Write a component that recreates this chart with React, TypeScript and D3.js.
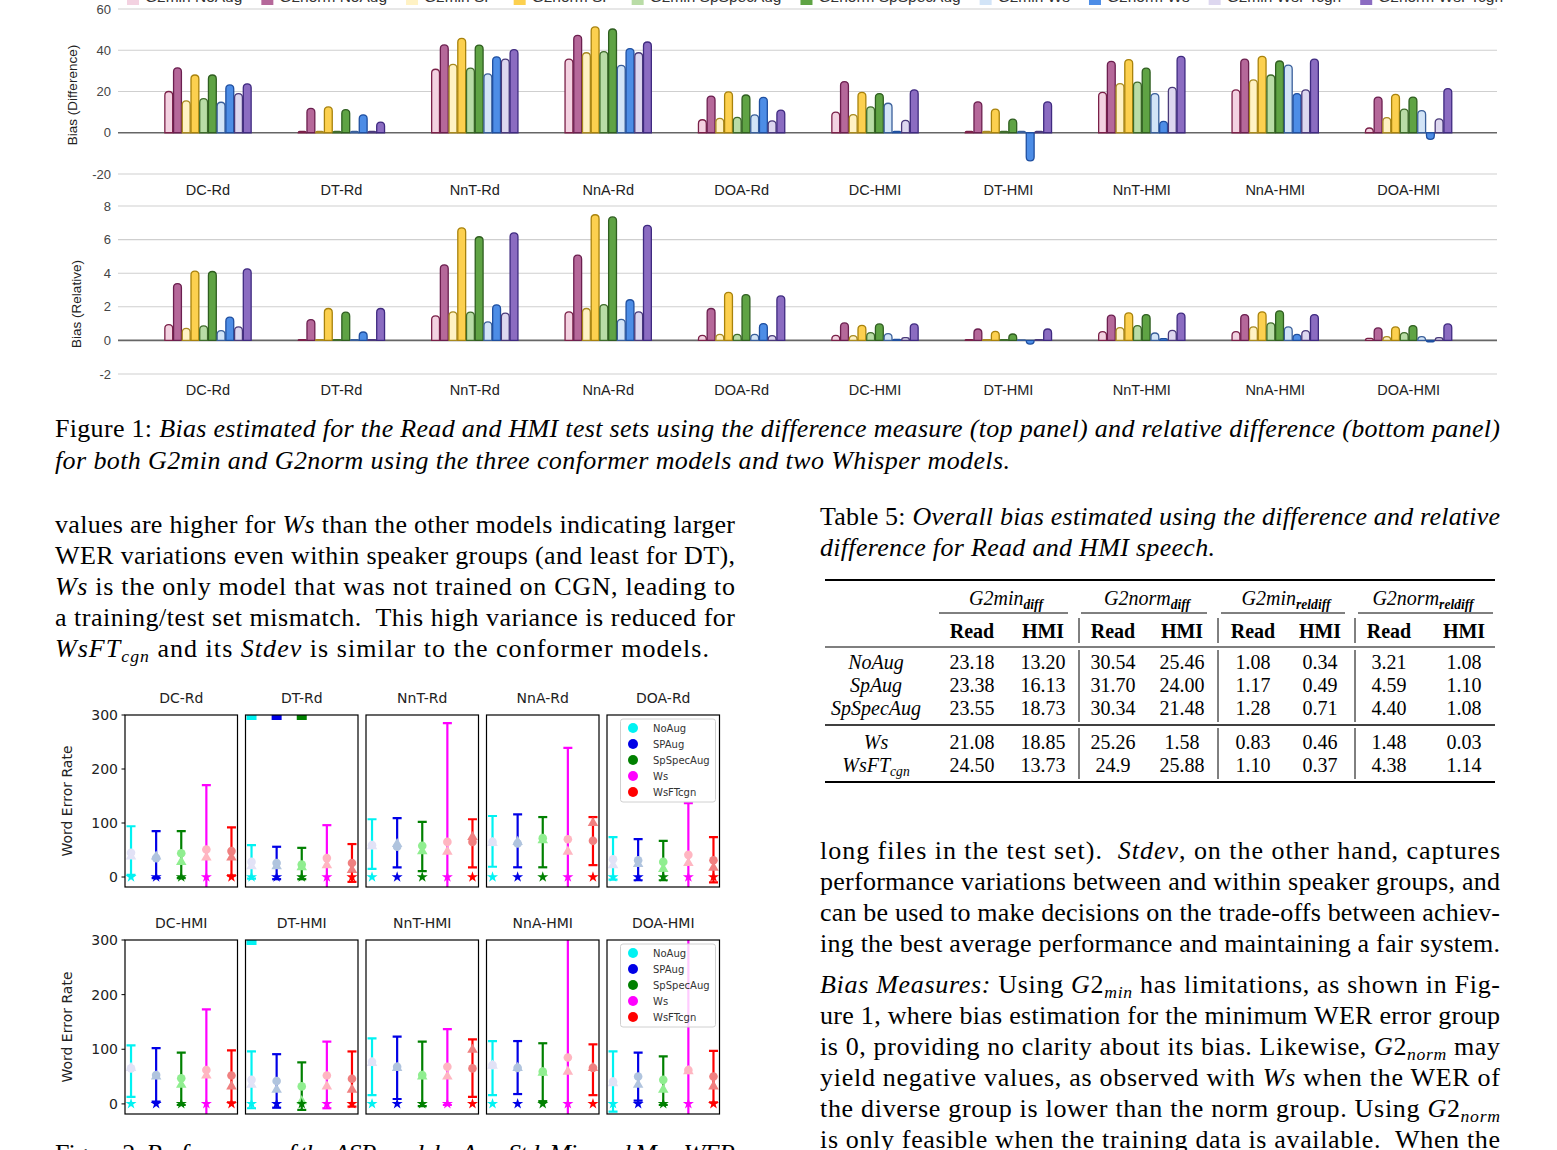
import React from 'react';
import * as d3 from 'd3';

// ---------------- Figure 1 data ----------------
const categories = ['DC-Rd', 'DT-Rd', 'NnT-Rd', 'NnA-Rd', 'DOA-Rd', 'DC-HMI', 'DT-HMI', 'NnT-HMI', 'NnA-HMI', 'DOA-HMI'];
const seriesNames = ['G2min NoAug', 'G2norm NoAug', 'G2min SP', 'G2norm SP', 'G2min SpSpecAug', 'G2norm SpSpecAug', 'G2min Ws', 'G2norm Ws', 'G2min WsFTcgn', 'G2norm WsFTcgn'];

const diffG2minNoAug = [20, 0.7, 30.8, 35.7, 6.3, 10, 0.6, 19.6, 20.8, 2.3];
const diffG2normNoAug = [31.5, 11.8, 42.6, 47.2, 17.8, 24.8, 15, 34.6, 35.7, 17.3];
const diffG2minSP = [15.5, 0.7, 33.2, 38.8, 7, 8.8, 0.6, 23.8, 25.6, 7.3];
const diffG2normSP = [28, 12.5, 45.8, 51.3, 19.8, 19.6, 11.5, 35.5, 37, 18.6];
const diffG2minSpSpec = [16.5, 0.7, 31.3, 39.3, 7.5, 12.5, 0.6, 24.5, 28, 11.5];
const diffG2normSpSpec = [28, 11.2, 42.5, 50.3, 18.3, 19, 6.6, 31.3, 34.8, 17.3];
const diffG2minWs = [14.8, 0.7, 28.5, 32.7, 8.7, 14.3, 0.6, 19, 32.8, 10.7];
const diffG2normWs = [23.2, 8.7, 36.8, 40.8, 17.2, 0.6, -13.6, 5.5, 19, -3.2];
const diffG2minWsFT = [19, 0.7, 35.7, 38.8, 5.8, 6, 0.6, 22, 20.8, 6.7];
const diffG2normWsFT = [23.7, 5.2, 40.3, 44, 11, 20.8, 15, 37, 35.7, 21.4];

const relG2minNoAug = [0.94, 0.05, 1.46, 1.7, 0.3, 0.3, 0.05, 0.52, 0.52, 0.12];
const relG2normNoAug = [3.38, 1.24, 4.5, 5.07, 1.9, 1.04, 0.68, 1.5, 1.54, 0.74];
const relG2minSP = [0.72, 0.05, 1.7, 1.9, 0.36, 0.28, 0.05, 0.76, 0.8, 0.22];
const relG2normSP = [4.12, 1.9, 6.7, 7.48, 2.86, 0.9, 0.54, 1.64, 1.7, 0.8];
const relG2minSpSpec = [0.86, 0.05, 1.68, 2.13, 0.36, 0.46, 0.05, 0.88, 1.04, 0.46];
const relG2normSpSpec = [4.1, 1.68, 6.17, 7.35, 2.72, 0.98, 0.38, 1.54, 1.76, 0.88];
const relG2minWs = [0.58, 0.05, 1.1, 1.25, 0.36, 0.4, 0.03, 0.44, 0.8, 0.22];
const relG2normWs = [1.38, 0.5, 2.12, 2.42, 1.0, 0.06, -0.22, 0.1, 0.36, -0.08];
const relG2minWsFT = [0.8, 0.05, 1.62, 1.7, 0.28, 0.16, 0.05, 0.6, 0.58, 0.16];
const relG2normWsFT = [4.26, 1.9, 6.4, 6.85, 2.65, 0.98, 0.68, 1.62, 1.54, 0.98];

const diffTicks = [-20, 0, 20, 40, 60];
const relTicks = [-2, 0, 2, 4, 6, 8];

const seriesFill = ['#f3d2e1', '#b5689a', '#fff2c4', '#fcd04f', '#b9dca6', '#5fa344', '#d2e4f7', '#4d8de6', '#ddd7ef', '#8b6cc1'];
const seriesStroke = ['#7a2048', '#6b1f4f', '#a88a20', '#a8820c', '#3e6b2a', '#2f5e20', '#3a5f9a', '#1f4fa0', '#4a3a7a', '#3f2a80'];

// ---------------- Figure 2 data ----------------
const modelNames = ['NoAug', 'SPAug', 'SpSpecAug', 'Ws', 'WsFTcgn'];
const werTicks = [0, 100, 200, 300];

const meanNoAug = [45, 28, 59, 65, 33, 65, 44, 77, 71, 41];
const medianNoAug = [38, 20, 57, 63, 22, 66, 35, 75, 70, 38];
const highNoAug = [94, 59, 107, 113, 74, 107, 96, 120, 115, 96];
const lowNoAug = [4, -3, 15, 19, -5, 13, -8, 16, 16, -14];
const maxNoAug = [null, 300, null, null, null, null, 300, null, null, null];

const meanSPAug = [35, 26, 56, 62, 31, 53, 42, 68, 66, 50];
const medianSPAug = [38, 20, 61, 65, 24, 50, 26, 66, 66, 35];
const highSPAug = [85, 56, 109, 116, 70, 102, 91, 123, 115, 94];
const lowSPAug = [-2, -4, 18, 18, -6, 4, -7, 9, 18, 6];
const maxSPAug = [null, 300, null, null, null, null, null, null, null, null];

const meanSpSpec = [44, 23, 58, 72, 28, 47, 32, 53, 59, 44];
const medianSpSpec = [28, 18, 48, 68, 15, 35, 5, 50, 57, 26];
const highSpSpec = [85, 54, 102, 111, 67, 94, 76, 114, 111, 87];
const lowSpSpec = [-2, -4, 11, 18, -6, -2, -11, -4, 5, -2];
const maxSpSpec = [null, 300, null, null, null, null, null, null, null, null];

const meanWs = [51, 35, 65, 70, 41, 62, 52, 68, 85, 62];
const medianWs = [36, 22, 47, 47, 26, 52, 32, 50, 59, 60];
const highWs = [170, 96, 285, 239, 137, 173, 114, 137, 420, 400];
const lowWs = [-68, -30, -150, -100, -60, -50, -8, -2, -250, -250];
const maxWs = [null, null, null, null, null, null, null, null, null, null];

const meanWsFT = [48, 26, 65, 67, 31, 52, 46, 65, 66, 50];
const medianWsFT = [36, 13, 74, 100, 17, 32, 26, 99, 66, 32];
const highWsFT = [92, 61, 107, 111, 74, 98, 96, 118, 109, 97];
const lowWsFT = [3, -9, 18, 22, -10, 3, -5, 13, 16, 3];
const maxWsFT = [null, null, null, null, null, null, null, null, null, null];

const minAll = [0, 0, 0, 0, 0, 0, 0, 0, 0, 0];

const modelColor = ['#00f2f2', '#0000e6', '#008000', '#ff00ff', '#ff0000'];
const modelLight = ['#e2e2f6', '#b0c4de', '#90ee90', '#ffb6c1', '#f08080'];

// ---------------- Table 5 data ----------------
const tableRowLabels = [['NoAug'], ['SpAug'], ['SpSpecAug'], ['Ws'], ['WsFT', 'cgn']];
const rowNoAug = ['23.18', '13.20', '30.54', '25.46', '1.08', '0.34', '3.21', '1.08'];
const rowSpAug = ['23.38', '16.13', '31.70', '24.00', '1.17', '0.49', '4.59', '1.10'];
const rowSpSpecAug = ['23.55', '18.73', '30.34', '21.48', '1.28', '0.71', '4.40', '1.08'];
const rowWs = ['21.08', '18.85', '25.26', '1.58', '0.83', '0.46', '1.48', '0.03'];
const rowWsFT = ['24.50', '13.73', '24.9', '25.88', '1.10', '0.37', '4.38', '1.14'];
const tableGroups = [['G2min', 'diff'], ['G2norm', 'diff'], ['G2min', 'reldiff'], ['G2norm', 'reldiff']];
const tableSub = ['Read', 'HMI', 'Read', 'HMI', 'Read', 'HMI', 'Read', 'HMI'];

const FIG = '"Liberation Sans", Arial, sans-serif';
const MPL = '"DejaVu Sans", sans-serif';
const SERIF = '"Liberation Serif", "Times New Roman", serif';
const BODY = 26;

type Seg = { t: string; s?: 'r' | 'i' | 'b' | 'm' | 'sub' | 'subb' };

function TextLine(props: { x: number; y: number; segs: Seg[]; width?: number; size?: number; anchor?: string }) {
  const { x, y, segs, width, size = BODY, anchor } = props;
  let shifted = false;
  const kids = segs.map((sg, i) => {
    const isSub = sg.s === 'sub' || sg.s === 'subb';
    let dy: number | undefined;
    if (isSub && !shifted) { dy = size * 0.2; shifted = true; }
    else if (!isSub && shifted) { dy = -size * 0.2; shifted = false; }
    const italic = sg.s === 'i' || sg.s === 'm' || sg.s === 'sub' || sg.s === 'subb';
    const bold = sg.s === 'b' || sg.s === 'subb';
    return (
      <tspan key={i} dy={dy} fontStyle={italic ? 'italic' : 'normal'} fontWeight={bold ? 'bold' : 'normal'} fontSize={isSub ? size * 0.68 : undefined}>
        {sg.t}
      </tspan>
    );
  });
  return (
    <text x={x} y={y} fontFamily={SERIF} fontSize={size} textAnchor={anchor as any}
      textLength={width} lengthAdjust={width ? 'spacing' : undefined} style={{ whiteSpace: 'pre' }} fill="#000">
      {kids}
    </text>
  );
}

function barPath(x: number, w: number, yZero: number, yVal: number) {
  const h = Math.abs(yVal - yZero);
  const r = Math.min(w / 2, h);
  if (yVal <= yZero) {
    return `M${x},${yZero}V${yVal + r}Q${x},${yVal} ${x + r},${yVal}H${x + w - r}Q${x + w},${yVal} ${x + w},${yVal + r}V${yZero}Z`;
  }
  return `M${x},${yZero}V${yVal - r}Q${x},${yVal} ${x + r},${yVal}H${x + w - r}Q${x + w},${yVal} ${x + w},${yVal - r}V${yZero}Z`;
}

function BarPanel(props: { y: d3.ScaleLinear<number, number>; ticks: number[]; data: number[][]; labelY: number; title: string; titleX: number; titleY: number }) {
  const { y, ticks, data, labelY, title, titleX, titleY } = props;
  const x0 = d3.scaleBand<string>().domain(categories).range([141.3, 1475.3]).paddingInner(0.34).paddingOuter(0.17);
  const x1 = d3.scaleBand<string>().domain(seriesNames).range([0, x0.bandwidth()]).padding(0.1);
  const y0 = y(0);
  return (
    <g>
      {ticks.map((t) => (
        <g key={t}>
          <line x1={118} x2={1497} y1={y(t)} y2={y(t)} stroke={t === 0 ? '#666' : '#cfcfcf'} strokeWidth={t === 0 ? 1.6 : 1.1} />
          <text x={111} y={y(t) + 4.5} textAnchor="end" fontFamily={FIG} fontSize={13} fill="#444">{t}</text>
        </g>
      ))}
      {categories.map((c, ci) => (
        <g key={c}>
          {seriesNames.map((s, si) => {
            const v = data[si][ci];
            return (
              <path key={s} d={barPath((x0(c) as number) + (x1(s) as number), x1.bandwidth(), y0, y(v))}
                fill={seriesFill[si]} stroke={seriesStroke[si]} strokeWidth={1.3} />
            );
          })}
          <text x={(x0(c) as number) + x0.bandwidth() / 2} y={labelY} textAnchor="middle" fontFamily={FIG} fontSize={14.5} fill="#222">{c}</text>
        </g>
      ))}
      <text transform={`translate(${titleX},${titleY}) rotate(-90)`} textAnchor="middle" fontFamily={FIG} fontSize={13.5} fill="#222">{title}</text>
    </g>
  );
}

export default function App() {
  const diffSeries = [diffG2minNoAug, diffG2normNoAug, diffG2minSP, diffG2normSP, diffG2minSpSpec, diffG2normSpSpec, diffG2minWs, diffG2normWs, diffG2minWsFT, diffG2normWsFT];
  const relSeries = [relG2minNoAug, relG2normNoAug, relG2minSP, relG2normSP, relG2minSpSpec, relG2normSpSpec, relG2minWs, relG2normWs, relG2minWsFT, relG2normWsFT];

  const yDiff = d3.scaleLinear().domain([-20, 60]).range([174, 9]);
  const yRel = d3.scaleLinear().domain([-2, 8]).range([374, 206]);

  const legendLayout = React.useMemo(() => {
    let widths: number[] = seriesNames.map((s) => s.length * 8.6);
    try {
      const ctx = document.createElement('canvas').getContext('2d');
      if (ctx) {
        ctx.font = '15.5px "Liberation Sans"';
        widths = seriesNames.map((s) => ctx.measureText(s).width);
      }
    } catch (e) { /* ignore */ }
    const xs: number[] = [];
    let cur = 127;
    widths.forEach((w) => { xs.push(cur); cur += 18 + w + 19; });
    return xs;
  }, []);

  const models = [
    { mean: meanNoAug, median: medianNoAug, high: highNoAug, low: lowNoAug, max: maxNoAug },
    { mean: meanSPAug, median: medianSPAug, high: highSPAug, low: lowSPAug, max: maxSPAug },
    { mean: meanSpSpec, median: medianSpSpec, high: highSpSpec, low: lowSpSpec, max: maxSpSpec },
    { mean: meanWs, median: medianWs, high: highWs, low: lowWs, max: maxWs },
    { mean: meanWsFT, median: medianWsFT, high: highWsFT, low: lowWsFT, max: maxWsFT },
  ];

  const starPath = d3.symbol().type(d3.symbolStar).size(38)() as string;
  const triPath = d3.symbol().type(d3.symbolTriangle).size(48)() as string;
  const sqPath = d3.symbol().type(d3.symbolSquare).size(100)() as string;

  const rowTops = [715, 940];
  const rowBottoms = [887, 1114];
  const panelW = 112.5;

  const panels = categories.map((c, p) => {
    const row = Math.floor(p / 5);
    const col = p % 5;
    const px = 125 + col * 120.5;
    const y = d3.scaleLinear().domain([-18.5, 300]).range([rowBottoms[row], rowTops[row]]);
    const x = d3.scaleLinear().domain([-0.24, 4.24]).range([px, px + panelW]);
    const clipId = `clip${p}`;
    const top = rowTops[row];
    const h = rowBottoms[row] - rowTops[row];
    return (
      <g key={c}>
        <clipPath id={clipId}><rect x={px} y={top} width={panelW} height={h} /></clipPath>
        <text x={px + panelW / 2} y={top - 12} textAnchor="middle" fontFamily={MPL} fontSize={14} fill="#222">{c}</text>
        <g clipPath={`url(#${clipId})`}>
          {models.map((m, mi) => {
            const cx = x(mi);
            const col1 = modelColor[mi];
            const light = modelLight[mi];
            const mx = m.max[p];
            return (
              <g key={mi}>
                <line x1={cx} x2={cx} y1={y(m.low[p])} y2={y(m.high[p])} stroke={col1} strokeWidth={2.2} />
                <line x1={cx - 4.5} x2={cx + 4.5} y1={y(m.high[p])} y2={y(m.high[p])} stroke={col1} strokeWidth={2.2} />
                <line x1={cx - 4.5} x2={cx + 4.5} y1={y(m.low[p])} y2={y(m.low[p])} stroke={col1} strokeWidth={2.2} />
                <circle cx={cx} cy={y(m.mean[p])} r={4.3} fill={light} />
                <path d={triPath} transform={`translate(${cx},${y(m.median[p])})`} fill={light} />
                <path d={starPath} transform={`translate(${cx},${y(minAll[p])})`} fill={col1} />
                {mx !== null && <path d={sqPath} transform={`translate(${cx},${y(mx)})`} fill={col1} />}
              </g>
            );
          })}
        </g>
        <rect x={px} y={top} width={panelW} height={h} fill="none" stroke="#000" strokeWidth={1.2} />
        {col === 0 && werTicks.map((t) => (
          <g key={t}>
            <line x1={px - 3.5} x2={px} y1={y(t)} y2={y(t)} stroke="#000" strokeWidth={1} />
            <text x={px - 7} y={y(t) + 5} textAnchor="end" fontFamily={MPL} fontSize={14} fill="#222">{t}</text>
          </g>
        ))}
        {col === 0 && (
          <text transform={`translate(${72},${(top + rowBottoms[row]) / 2}) rotate(-90)`} textAnchor="middle" fontFamily={MPL} fontSize={14} fill="#222">Word Error Rate</text>
        )}
        {col === 4 && (
          <g>
            <rect x={px + 13.5} y={top + 4} width={95} height={83} rx={2.5} fill="#fff" fillOpacity={0.8} stroke="#d0d0d0" strokeWidth={1} />
            {modelNames.map((n, ni) => (
              <g key={n}>
                <circle cx={px + 26} cy={top + 13 + ni * 16} r={5} fill={modelColor[ni]} />
                <text x={px + 46} y={top + 16.5 + ni * 16} fontFamily={MPL} fontSize={10} fill="#333">{n}</text>
              </g>
            ))}
          </g>
        )}
      </g>
    );
  });

  const colX = [972, 1043, 1113, 1182, 1253, 1320, 1389, 1464];
  const groupX = [1006, 1147, 1286, 1423];
  const cmid = [[939, 1068], [1081, 1207], [1221, 1345], [1358, 1493]];
  const rowY = [669, 692, 715, 749, 772];
  const tableRows = [rowNoAug, rowSpAug, rowSpSpecAug, rowWs, rowWsFT];
  const vBars = [1079, 1218, 1355];

  const L = 55, LW = 680, R = 820, RW = 680;

  return (
    <div>
      <style>{'body{margin:0;}'}</style>
      <svg width={1557} height={1150} viewBox="0 0 1557 1150" style={{ display: 'block' }}>
        <rect width={1557} height={1150} fill="#fff" />
        {/* Legend (mostly cut off at the top, as in the source) */}
        {seriesNames.map((s, i) => (
          <g key={s}>
            <rect x={legendLayout[i]} y={-7} width={12} height={12} fill={seriesFill[i]} />
            <text x={legendLayout[i] + 18} y={2} fontFamily={FIG} fontSize={15.5} fill="#333">{s}</text>
          </g>
        ))}
        <BarPanel y={yDiff} ticks={diffTicks} data={diffSeries} labelY={195} title="Bias (Difference)" titleX={77} titleY={95} />
        <BarPanel y={yRel} ticks={relTicks} data={relSeries} labelY={395} title="Bias (Relative)" titleX={81} titleY={304} />

        {/* Figure 1 caption */}
        <TextLine x={L} y={437} width={1445} segs={[{ t: 'Figure 1: ' }, { t: 'Bias estimated for the Read and HMI test sets using the difference measure (top panel) and relative difference (bottom panel)', s: 'i' }]} />
        <TextLine x={L} y={469} width={955} segs={[{ t: 'for both G2min and G2norm using the three conformer models and two Whisper models.', s: 'i' }]} />

        {/* Left column paragraph */}
        <TextLine x={L} y={533} width={LW} segs={[{ t: 'values are higher for ' }, { t: 'Ws', s: 'm' }, { t: ' than the other models indicating larger' }]} />
        <TextLine x={L} y={564} width={LW} segs={[{ t: 'WER variations even within speaker groups (and least for DT),' }]} />
        <TextLine x={L} y={595} width={LW} segs={[{ t: 'Ws', s: 'm' }, { t: ' is the only model that was not trained on CGN, leading to' }]} />
        <TextLine x={L} y={626} width={LW} segs={[{ t: 'a training/test set mismatch.  This high variance is reduced for' }]} />
        <TextLine x={L} y={657} width={654} segs={[{ t: 'WsFT', s: 'm' }, { t: 'cgn', s: 'sub' }, { t: ' and its ' }, { t: 'Stdev', s: 'm' }, { t: ' is similar to the conformer models.' }]} />

        {/* Figure 2 small multiples */}
        {panels}
        <TextLine x={L} y={1162} width={LW} segs={[{ t: 'Figure 2: ' }, { t: 'Performance of the ASR models: Avg, Std, Min and Max WER', s: 'i' }]} />

        {/* Table 5 caption */}
        <TextLine x={R} y={525} width={RW} segs={[{ t: 'Table 5: ' }, { t: 'Overall bias estimated using the difference and relative', s: 'i' }]} />
        <TextLine x={R} y={556} width={395} segs={[{ t: 'difference for Read and HMI speech.', s: 'i' }]} />

        {/* Table 5 */}
        <line x1={825} x2={1495} y1={580} y2={580} stroke="#000" strokeWidth={2} />
        {tableGroups.map((g, gi) => (
          <g key={gi}>
            <TextLine x={groupX[gi]} y={605} size={20} anchor="middle" segs={[{ t: g[0], s: 'm' }, { t: g[1], s: 'subb' }]} />
            <line x1={cmid[gi][0]} x2={cmid[gi][1]} y1={613} y2={613} stroke="#000" strokeWidth={1} />
          </g>
        ))}
        {tableSub.map((s, i) => (
          <text key={i} x={colX[i]} y={638} textAnchor="middle" fontFamily={SERIF} fontSize={20} fontWeight="bold">{s}</text>
        ))}
        <line x1={825} x2={1495} y1={647} y2={647} stroke="#000" strokeWidth={1.2} />
        <line x1={825} x2={1495} y1={725} y2={725} stroke="#000" strokeWidth={1.4} />
        <line x1={825} x2={1495} y1={782} y2={782} stroke="#000" strokeWidth={2} />
        {vBars.map((vx) => (
          <g key={vx}>
            <line x1={vx} x2={vx} y1={618} y2={643} stroke="#000" strokeWidth={1} />
            <line x1={vx} x2={vx} y1={650} y2={722} stroke="#000" strokeWidth={1} />
            <line x1={vx} x2={vx} y1={728} y2={779} stroke="#000" strokeWidth={1} />
          </g>
        ))}
        {tableRows.map((r, ri) => (
          <g key={ri}>
            <TextLine x={876} y={rowY[ri]} size={20} anchor="middle"
              segs={tableRowLabels[ri].length > 1 ? [{ t: tableRowLabels[ri][0], s: 'm' }, { t: tableRowLabels[ri][1], s: 'sub' }] : [{ t: tableRowLabels[ri][0], s: 'm' }]} />
            {r.map((v, ci) => (
              <text key={ci} x={colX[ci]} y={rowY[ri]} textAnchor="middle" fontFamily={SERIF} fontSize={20}>{v}</text>
            ))}
          </g>
        ))}

        {/* Right column paragraph */}
        <TextLine x={R} y={859} width={RW} segs={[{ t: 'long files in the test set).  ' }, { t: 'Stdev', s: 'm' }, { t: ', on the other hand, captures' }]} />
        <TextLine x={R} y={890} width={RW} segs={[{ t: 'performance variations between and within speaker groups, and' }]} />
        <TextLine x={R} y={921} width={RW} segs={[{ t: 'can be used to make decisions on the trade-offs between achiev-' }]} />
        <TextLine x={R} y={952} width={RW} segs={[{ t: 'ing the best average performance and maintaining a fair system.' }]} />
        <TextLine x={R} y={993} width={RW} segs={[{ t: 'Bias Measures:', s: 'i' }, { t: ' Using ' }, { t: 'G', s: 'm' }, { t: '2' }, { t: 'min', s: 'sub' }, { t: ' has limitations, as shown in Fig-' }]} />
        <TextLine x={R} y={1024} width={RW} segs={[{ t: 'ure 1, where bias estimation for the minimum WER error group' }]} />
        <TextLine x={R} y={1055} width={RW} segs={[{ t: 'is 0, providing no clarity about its bias. Likewise, ' }, { t: 'G', s: 'm' }, { t: '2' }, { t: 'norm', s: 'sub' }, { t: ' may' }]} />
        <TextLine x={R} y={1086} width={RW} segs={[{ t: 'yield negative values, as observed with ' }, { t: 'Ws', s: 'm' }, { t: ' when the WER of' }]} />
        <TextLine x={R} y={1117} width={RW} segs={[{ t: 'the diverse group is lower than the norm group. Using ' }, { t: 'G', s: 'm' }, { t: '2' }, { t: 'norm', s: 'sub' }]} />
        <TextLine x={R} y={1148} width={RW} segs={[{ t: 'is only feasible when the training data is available.  When the' }]} />
      </svg>
    </div>
  );
}
